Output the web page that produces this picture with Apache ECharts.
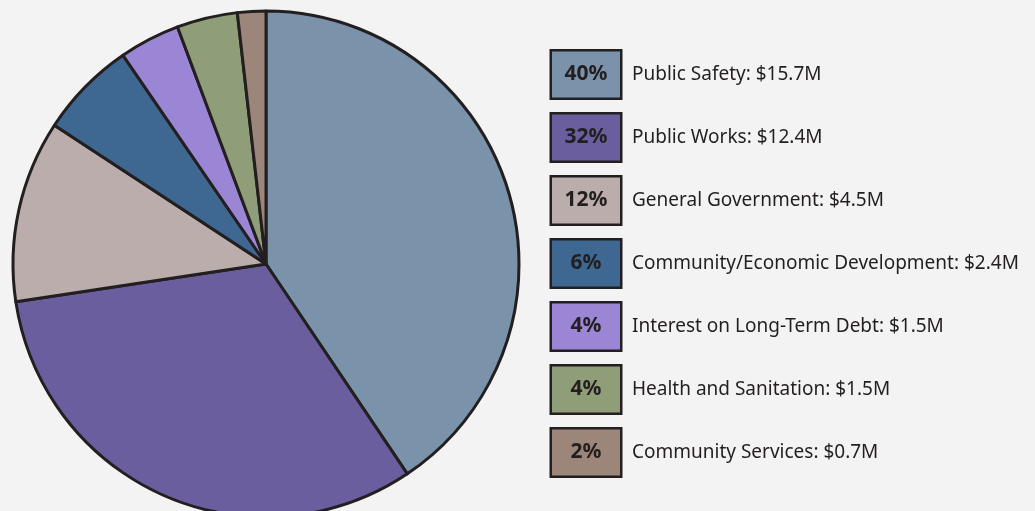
<!DOCTYPE html>
<html>
<head>
<meta charset="utf-8">
<script src="https://cdn.jsdelivr.net/npm/echarts@6/dist/echarts.min.js"></script>
<style>
  html, body { margin: 0; padding: 0; background: #f3f3f3; }
  #chart { width: 1035px; height: 511px; }
</style>
</head>
<body>
<div id="chart"></div>
<script>
const categories = ['Public Safety', 'Public Works', 'General Government', 'Community/Economic Development',
    'Interest on Long-Term Debt', 'Health and Sanitation', 'Community Services'];
const amounts = [15.7, 12.4, 4.5, 2.4, 1.5, 1.5, 0.7];
const percentLabels = ['40%', '32%', '12%', '6%', '4%', '4%', '2%'];
const colors = ['#7a93ab', '#6b5e9f', '#bbadab', '#3e6891', '#9a86d4', '#8f9d78', '#9c8579'];

const INK = '#231f20';
const FONT = '"Noto Sans", sans-serif';

const chart = echarts.init(document.getElementById('chart'));

// one rich style per legend box so each gets its own fill colour
const rich = {
    name: {
        fontFamily: FONT,
        fontSize: 19,
        color: INK,
        padding: [0, 0, 0, 12],
        verticalAlign: 'middle'
    }
};
colors.forEach((c, i) => {
    rich['b' + i] = {
        width: 68,
        height: 46,
        align: 'center',
        verticalAlign: 'middle',
        backgroundColor: c,
        borderColor: INK,
        borderWidth: 2.5,
        fontFamily: FONT,
        fontWeight: 'bold',
        fontSize: 21,
        color: INK
    };
});

const pieData = categories.map((name, i) => ({
    name: name,
    value: amounts[i],
    itemStyle: { color: colors[i] }
}));

chart.setOption({
    backgroundColor: '#f3f3f3',
    animation: false,
    legend: {
        orient: 'vertical',
        left: 546,
        top: 49,
        padding: 0,
        itemWidth: 0,
        itemHeight: 0,
        itemGap: 12,
        selectedMode: false,
        data: categories,
        formatter: (name) => {
            const i = categories.indexOf(name);
            return '{b' + i + '|' + percentLabels[i] + '}{name|' + name + ': $' + amounts[i].toFixed(1) + 'M}';
        },
        textStyle: { rich: rich }
    },
    series: [{
        type: 'pie',
        center: [266, 264],
        radius: 253,
        startAngle: 90,
        clockwise: true,
        label: { show: false },
        labelLine: { show: false },
        emphasis: { disabled: true },
        itemStyle: { borderColor: INK, borderWidth: 3 },
        data: pieData
    }]
});
</script>
</body>
</html>
